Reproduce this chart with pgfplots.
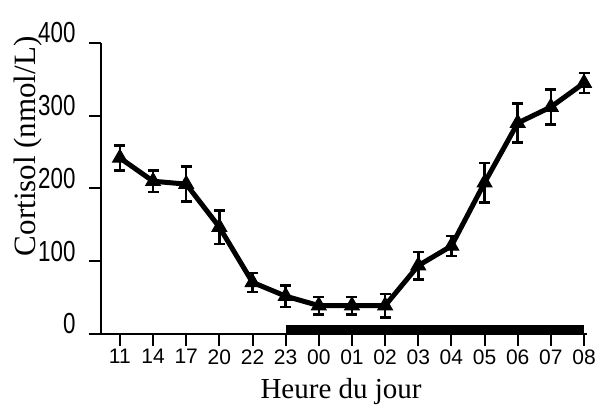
\documentclass[border=0pt]{standalone}
\usepackage{fontspec}
\setmainfont{Liberation Serif}
\newfontfamily\ytickfont[FakeStretch=0.77]{Liberation Sans}
\newfontfamily\xtickfont{Liberation Sans}
\usepackage{pgfplots}
\pgfplotsset{compat=1.18}
\pgfplotstableread{
x y e
0 242 17
1 210 15
2 206 24
3 147 23
4 71 13
5 52 15
6 39 12
7 39 12
8 39 16
9 94 19
10 121 14
11 208 27
12 290 27
13 312 24
14 345 14
}\cortisol
\begin{document}
\begin{tikzpicture}
\begin{axis}[
 at={(101bp,74bp)}, anchor=south west,
 width=486bp, height=291bp, scale only axis,
 xmin=-0.57, xmax=14.09, ymin=0, ymax=400,
 axis lines*=left, axis line style={line width=2bp},
 xtick={0,...,14}, xticklabels={11,14,17,20,22,23,00,01,02,03,04,05,06,07,08},
 ytick={0,100,200,300,400},
 tick align=outside, major tick length=12bp, tick style={line width=2bp, black},
 /pgf/number format/assume math mode=true,
 yticklabel style={font=\fontsize{29bp}{29bp}\ytickfont, yshift=10bp, xshift=-10bp},
 xticklabel style={font=\fontsize{21bp}{21bp}\xtickfont},
 ylabel={Cortisol (nmol/L)},
 ylabel style={font=\fontsize{31bp}{31bp}\selectfont, at={(axis description cs:-0.15,0.645)}, anchor=center},
 xlabel={Heure du jour},
 xlabel style={font=\fontsize{29bp}{29bp}\selectfont, at={(axis description cs:0.494,-0.22)}, anchor=base},
 clip=false,
]
\addplot[fill=black, draw=none, forget plot] coordinates {(5,12) (14,12)} \closedcycle;
\addplot[black, line width=5bp, mark=triangle*, mark size=8.5bp, mark options={solid,line width=1bp},
  error bars/.cd, y dir=both, y explicit,
  error bar style={line width=2.5bp},
  error mark options={rotate=90, mark size=5.5bp, line width=2.5bp}]
  table[x=x, y=y, y error=e] {\cortisol};
\end{axis}
\pgfresetboundingbox
\path[use as bounding box] (0,0) rectangle (597bp,408bp);
\end{tikzpicture}
\end{document}
